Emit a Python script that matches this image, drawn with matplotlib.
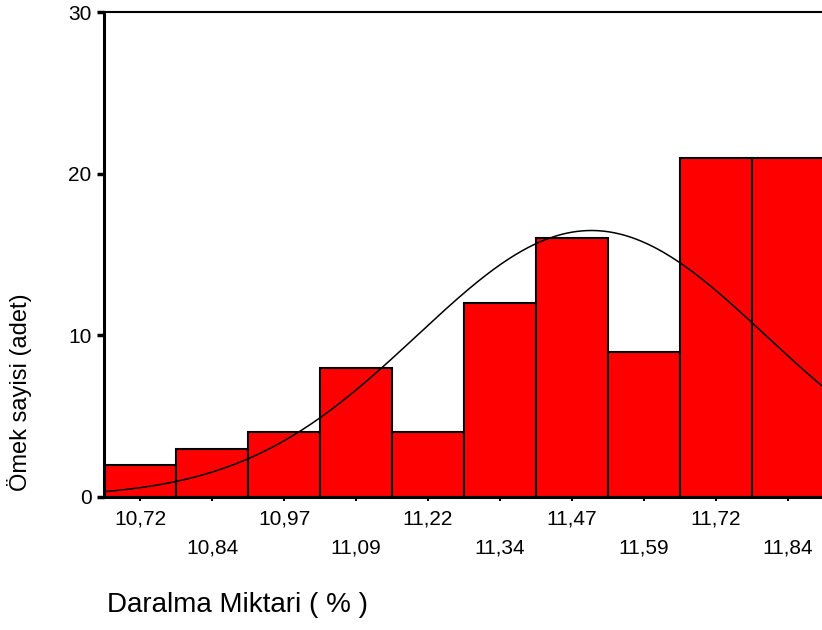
import numpy as np
import matplotlib
matplotlib.use('Agg')
import matplotlib.pyplot as plt
from matplotlib import font_manager as fm

# histogram data (bin centres and counts)
bin_centers = [10.72, 10.845, 10.97, 11.095, 11.22, 11.345, 11.47, 11.595, 11.72, 11.845]
tick_labels = ['10,72', '10,84', '10,97', '11,09', '11,22', '11,34', '11,47', '11,59', '11,72', '11,84']
counts = [2, 3, 4, 8, 4, 12, 16, 9, 21, 21]
bin_width = 0.125

names = {f.name for f in fm.fontManager.ttflist}
main_font = 'Liberation Sans' if 'Liberation Sans' in names else 'DejaVu Sans'
plt.rcParams['font.family'] = [main_font, 'DejaVu Sans']

fig = plt.figure(figsize=(8.22, 6.3), dpi=100)
ax = fig.add_axes([104 / 822, 133 / 630, 720 / 822, 485 / 630])

ax.bar(bin_centers, counts, width=bin_width, color='#ff0000',
       edgecolor='black', linewidth=1.5, zorder=2)

# normal curve from the histogram's mean and sd
c = np.array(bin_centers)
n = np.array(counts)
N = n.sum()
mean = (c * n).sum() / N
sd = np.sqrt((n * (c - mean) ** 2).sum() / N)
x0 = bin_centers[0] - bin_width / 2
x1 = bin_centers[-1] + bin_width / 2
xs = np.linspace(x0, x1, 400)
ys = N * bin_width / (sd * np.sqrt(2 * np.pi)) * np.exp(-0.5 * ((xs - mean) / sd) ** 2)
ax.plot(xs, ys, color='black', linewidth=1.1, zorder=3)

ax.set_xlim(x0, x1)
ax.set_ylim(0, 30)
ax.set_yticks([0, 10, 20, 30])
ax.tick_params(axis='y', direction='out', length=5, width=2.5, labelsize=15, pad=4)

ax.set_xticks(bin_centers[0::2])
ax.set_xticklabels(tick_labels[0::2])
ax.set_xticks(bin_centers[1::2], minor=True)
ax.set_xticklabels(tick_labels[1::2], minor=True)
ax.tick_params(axis='x', which='both', direction='out', length=3, width=1.5, labelsize=15)
ax.tick_params(axis='x', which='major', pad=6)
ax.tick_params(axis='x', which='minor', pad=27)

for s in ['left', 'bottom']:
    ax.spines[s].set_linewidth(2.2)
ax.spines['top'].set_linewidth(1.5)
ax.spines['right'].set_visible(False)

fig.text(20 / 822, (630 - 392) / 630, 'Ömek sayisi (adet)', rotation=90,
         ha='center', va='center', fontsize=17)
fig.text(107 / 822, (630 - 605) / 630, 'Daralma Miktari ( % )',
         ha='left', va='center', fontsize=20)

fig.savefig('out.png', dpi=100)
